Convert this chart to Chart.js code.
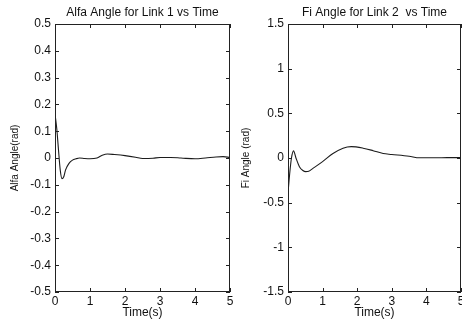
<!DOCTYPE html>
<html lang="en">
<head>
<meta charset="utf-8">
<title>Link angles vs time</title>
<script src="https://cdn.jsdelivr.net/npm/chart.js"></script>
<style>
  html, body { margin: 0; padding: 0; background: #fff; overflow: hidden; }
  #wrap { position: relative; width: 462px; height: 320px; overflow: hidden; }
  canvas { position: absolute; top: 0; }
</style>
</head>
<body>
<div id="wrap">
  <canvas id="alfaChart" width="285" height="320" style="left:0"></canvas>
  <canvas id="fiChart" width="287" height="320" style="left:231px"></canvas>
</div>
<script>
// time samples (s) and angles (rad)
const tAlfa = [0, 0.05, 0.1, 0.15, 0.2, 0.25, 0.3, 0.4, 0.5, 0.6, 0.7, 0.85, 1.0, 1.2, 1.35, 1.5, 1.7, 2.0, 2.3, 2.5, 2.8, 3.0, 3.3, 3.6, 4.0, 4.3, 4.6, 4.8, 5.0];
const alfa = [0.165, 0.11, 0.03, -0.045, -0.077, -0.07, -0.045, -0.02, -0.008, -0.003, 0.0, -0.002, -0.003, 0.0, 0.01, 0.015, 0.013, 0.009, 0.003, -0.002, -0.001, 0.002, 0.002, 0.0, -0.003, 0.0, 0.004, 0.005, 0.002];

const tFi = [0, 0.05, 0.1, 0.16, 0.23, 0.33, 0.43, 0.51, 0.6, 0.72, 1.0, 1.3, 1.59, 1.83, 2.17, 2.46, 2.75, 3.0, 3.5, 3.8, 4.2, 4.6, 5.0];
const fi = [-0.39, -0.17, 0.0, 0.08, 0.0, -0.097, -0.14, -0.153, -0.148, -0.116, -0.04, 0.05, 0.11, 0.127, 0.11, 0.082, 0.05, 0.04, 0.02, 0.002, 0.002, 0.004, 0.005];

const xTicks = [0, 1, 2, 3, 4, 5];
const alfaRange = [-0.5, 0.5, 0.1];
const fiRange = [-1.5, 1.5, 0.5];

const FAMILY = "'Liberation Sans', Arial, sans-serif";
const FONT = { family: FAMILY, size: 12, weight: 'normal' };
const YFONT = { family: FAMILY, size: 10, weight: 'normal' };
const INK = '#111';

// matlab style box with inward ticks on all four sides, title over the axes box
const frame = {
  id: 'frame',
  afterDraw(chart, args, opts) {
    const { ctx, chartArea: a, scales } = chart;
    ctx.save();
    ctx.strokeStyle = '#222';
    ctx.lineWidth = 1;
    ctx.strokeRect(a.left + 0.5, a.top + 0.5, a.width - 1, a.height - 1);
    ctx.beginPath();
    scales.x.ticks.forEach(t => {
      const px = Math.round(scales.x.getPixelForValue(t.value)) + 0.5;
      ctx.moveTo(px, a.bottom); ctx.lineTo(px, a.bottom - 4);
      ctx.moveTo(px, a.top); ctx.lineTo(px, a.top + 4);
    });
    scales.y.ticks.forEach(t => {
      const py = Math.round(scales.y.getPixelForValue(t.value)) + 0.5;
      ctx.moveTo(a.left, py); ctx.lineTo(a.left + 4, py);
      ctx.moveTo(a.right, py); ctx.lineTo(a.right - 4, py);
    });
    ctx.stroke();
    ctx.fillStyle = INK;
    ctx.font = FONT.size + 'px ' + FONT.family;
    ctx.textAlign = 'center';
    ctx.textBaseline = 'middle';
    ctx.fillText(opts.text, (a.left + a.right) / 2, 13);
    ctx.restore();
  }
};

function makeChart(id, title, yTitle, ts, vals, range, axisW) {
  return new Chart(document.getElementById(id), {
    type: 'line',
    data: {
      datasets: [{
        data: ts.map((t, i) => ({ x: t, y: vals[i] })),
        borderColor: '#1c1c1c',
        borderWidth: 1.1,
        pointRadius: 0,
        cubicInterpolationMode: 'monotone',
        fill: false
      }]
    },
    options: {
      responsive: false,
      animation: false,
      layout: { padding: { left: 0, right: axisW, top: 24, bottom: 0 } },
      plugins: {
        legend: { display: false },
        tooltip: { enabled: false },
        title: { display: false },
        frame: { text: title }
      },
      scales: {
        x: {
          type: 'linear', min: 0, max: 5,
          afterBuildTicks: s => { s.ticks = xTicks.map(v => ({ value: v })); },
          ticks: { color: INK, font: FONT, padding: 2, maxRotation: 0, callback: v => String(v) },
          grid: { display: false, drawTicks: false, tickLength: 0 },
          border: { display: false },
          title: { display: true, text: 'Time(s)', color: INK, font: FONT, padding: { top: 0, bottom: 0 } },
          afterFit: s => { s.height = 28; }
        },
        y: {
          type: 'linear', min: range[0], max: range[1],
          ticks: {
            stepSize: range[2], color: INK, font: FONT, padding: 4,
            callback: v => String(Math.round(v * 10) / 10)
          },
          grid: { display: false, drawTicks: false, tickLength: 0 },
          border: { display: false },
          title: { display: true, text: yTitle, color: INK, font: YFONT, padding: { top: 9.5, bottom: 0 } },
          afterFit: s => { s.width = axisW; }
        }
      }
    },
    plugins: [frame]
  });
}

makeChart('alfaChart', 'Alfa Angle for Link 1 vs Time', 'Alfa Angle(rad)', tAlfa, alfa, alfaRange, 55);
makeChart('fiChart', 'Fi Angle for Link 2  vs Time', 'Fi Angle (rad)', tFi, fi, fiRange, 57);
</script>
</body>
</html>
